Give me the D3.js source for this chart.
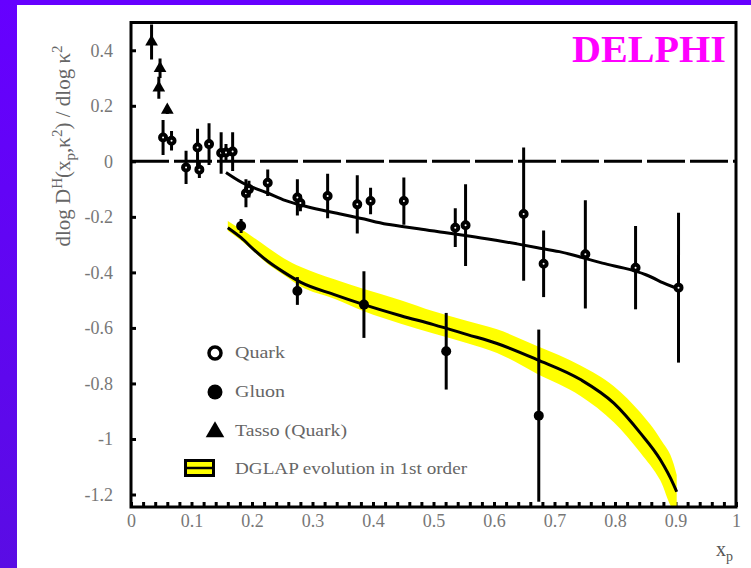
<!DOCTYPE html>
<html>
<head>
<meta charset="utf-8">
<script src="https://cdn.jsdelivr.net/npm/d3@7"></script>
<style>
  body { margin: 0; background: #fff; }
  svg { display: block; }
  .tick text { font-family: "Liberation Serif", serif; font-size: 18px; fill: #777; }
</style>
</head>
<body>
<div id="chart"></div>
<script>
const svgWidth = 751
const svgHeight = 568

let frame = { left: 131, top: 22.5, right: 736, bottom: 507 }

// Tasso (quark) points at low x_p
const tassoX = [0.034, 0.048, 0.046, 0.06]
const tassoY = [0.43, 0.335, 0.265, 0.185]
const tassoErr = [0.063, 0.035, 0.04, 0.015]

// quark points (open circles)
const quarkX = [0.053, 0.067, 0.091, 0.11, 0.113, 0.129, 0.149, 0.157, 0.168, 0.19, 0.195,
  0.226, 0.275, 0.28, 0.325, 0.374, 0.396, 0.451, 0.536, 0.553, 0.649, 0.682, 0.751, 0.834, 0.905]
const quarkY = [0.086, 0.074, -0.022, 0.05, -0.03, 0.062, 0.03, 0.032, 0.035, -0.115, -0.1,
  -0.077, -0.13, -0.15, -0.125, -0.155, -0.143, -0.143, -0.239, -0.23, -0.19, -0.369, -0.335, -0.383, -0.455]
const quarkErr = [0.063, 0.035, 0.06, 0.067, 0.03, 0.075, 0.075, 0.03, 0.07, 0.05, 0.03,
  0.048, 0.065, 0.03, 0.08, 0.105, 0.048, 0.085, 0.07, 0.147, 0.24, 0.12, 0.195, 0.15, 0.27]

// gluon points (filled circles)
const gluonX = [0.182, 0.275, 0.385, 0.521, 0.674]
const gluonY = [-0.233, -0.467, -0.516, -0.684, -0.916]
const gluonErr = [0.025, 0.05, 0.12, 0.138, 0.31]

// upper fitted line
const fitX = [0.157, 0.19, 0.226, 0.253, 0.297, 0.336, 0.39, 0.418, 0.479, 0.517, 0.561,
  0.605, 0.638, 0.671, 0.71, 0.737, 0.781, 0.814, 0.853, 0.88, 0.9]
const fitY = [-0.04, -0.088, -0.112, -0.143, -0.167, -0.185, -0.209, -0.227, -0.243, -0.257, -0.269,
  -0.285, -0.297, -0.311, -0.325, -0.341, -0.369, -0.383, -0.407, -0.44, -0.455]

// DGLAP evolution, 1st order, with its band
const dglapX = [0.16, 0.182, 0.203, 0.226, 0.253, 0.28, 0.336, 0.385, 0.446, 0.5, 0.556,
  0.605, 0.671, 0.743, 0.798, 0.842, 0.875, 0.897, 0.902]
const dglapY = [-0.239, -0.275, -0.318, -0.36, -0.4, -0.435, -0.48, -0.516, -0.556, -0.588, -0.624,
  -0.656, -0.714, -0.786, -0.871, -0.979, -1.075, -1.165, -1.19]
const bandHi = [-0.215, -0.245, -0.275, -0.31, -0.35, -0.38, -0.425, -0.46, -0.5, -0.54, -0.575,
  -0.605, -0.665, -0.735, -0.81, -0.905, -1.0, -1.09, -1.13]
const bandLo = [-0.25, -0.285, -0.325, -0.37, -0.41, -0.45, -0.495, -0.54, -0.585, -0.62, -0.655,
  -0.69, -0.765, -0.845, -0.94, -1.05, -1.15, -1.25, -1.25]

const yTicks = [0.4, 0.2, 0, -0.2, -0.4, -0.6, -0.8, -1, -1.2]
const xTicks = [0, 0.1, 0.2, 0.3, 0.4, 0.5, 0.6, 0.7, 0.8, 0.9, 1]

let svg = d3.select("#chart")
  .append("svg")
  .attr("width", svgWidth)
  .attr("height", svgHeight)

// purple slide background
let grad = svg.append("defs").append("linearGradient")
  .attr("id", "side").attr("x1", 0).attr("y1", 0).attr("x2", 0).attr("y2", 1)
grad.append("stop").attr("offset", "0%").attr("stop-color", "#6600ff")
grad.append("stop").attr("offset", "100%").attr("stop-color", "#5a0ce4")

svg.append("rect").attr("width", svgWidth).attr("height", svgHeight).attr("fill", "#fff")
svg.append("rect").attr("width", svgWidth).attr("height", 5).attr("fill", "#6600ff")
svg.append("rect").attr("width", 17).attr("height", svgHeight).attr("fill", "url(#side)")

svg.select("defs").append("clipPath").attr("id", "plot")
  .append("rect")
  .attr("x", frame.left).attr("y", frame.top)
  .attr("width", frame.right - frame.left).attr("height", frame.bottom - frame.top)

let x = d3.scaleLinear().domain([0, 1]).range([frame.left, frame.right])
let y = d3.scaleLinear().domain([-1.245, 0.5]).range([frame.bottom, frame.top])

// axes
let leftAxis = d3.axisLeft(y)
  .tickValues(yTicks)
  .tickSize(-5)
  .tickPadding(18)
  .tickFormat(d => String(d))

svg.append("g")
  .attr("transform", `translate(${frame.left},0)`)
  .call(leftAxis)

let minorAxis = d3.axisBottom(x)
  .tickValues(d3.range(0, 1.001, 0.02))
  .tickSize(-5)
  .tickFormat("")
svg.append("g")
  .attr("transform", `translate(0,${frame.bottom})`)
  .call(minorAxis)

let bottomAxis = d3.axisBottom(x)
  .tickValues(xTicks)
  .tickSize(0)
  .tickPadding(7)
  .tickFormat(d => String(d))
svg.append("g")
  .attr("transform", `translate(0,${frame.bottom})`)
  .call(bottomAxis)

svg.selectAll(".domain").remove()
svg.selectAll(".tick line").attr("stroke", "#000").attr("stroke-width", 3)

let plot = svg.append("g").attr("clip-path", "url(#plot)")

// zero line
plot.append("line")
  .attr("x1", x(0)).attr("x2", x(1))
  .attr("y1", y(0)).attr("y2", y(0))
  .attr("stroke", "#000")
  .attr("stroke-width", 3)
  .attr("stroke-dasharray", "38,5")

// DGLAP band and curve
let band = d3.area()
  .x((d, i) => x(dglapX[i]))
  .y0((d, i) => y(bandLo[i]))
  .y1((d, i) => y(bandHi[i]))
  .curve(d3.curveMonotoneX)

plot.append("path")
  .datum(dglapX)
  .attr("d", band)
  .attr("fill", "#ffff00")

let dglapLine = d3.line()
  .x((d, i) => x(dglapX[i]))
  .y((d, i) => y(dglapY[i]))
  .curve(d3.curveMonotoneX)

plot.append("path")
  .datum(dglapX)
  .attr("d", dglapLine)
  .attr("fill", "none")
  .attr("stroke", "#000")
  .attr("stroke-width", 3)

let fitLine = d3.line()
  .x((d, i) => x(fitX[i]))
  .y((d, i) => y(fitY[i]))
  .curve(d3.curveBasis)

plot.append("path")
  .datum(fitX)
  .attr("d", fitLine)
  .attr("fill", "none")
  .attr("stroke", "#000")
  .attr("stroke-width", 3)

// error bars
function drawErrors(xs, ys, errs) {
  plot.append("g")
    .selectAll("line")
    .data(xs)
    .enter()
    .append("line")
    .attr("x1", d => x(d)).attr("x2", d => x(d))
    .attr("y1", (d, i) => y(ys[i] + errs[i]))
    .attr("y2", (d, i) => y(ys[i] - errs[i]))
    .attr("stroke", "#000")
    .attr("stroke-width", 3)
}
drawErrors(tassoX, tassoY, tassoErr)
drawErrors(quarkX, quarkY, quarkErr)
drawErrors(gluonX, gluonY, gluonErr)

// small open circles: thick ring, barely hollow at this size
plot.append("g")
  .selectAll("circle")
  .data(quarkX)
  .enter()
  .append("circle")
  .attr("cx", d => x(d))
  .attr("cy", (d, i) => y(quarkY[i]))
  .attr("r", 3)
  .attr("fill", "#fff")
  .attr("stroke", "#000")
  .attr("stroke-width", 4)

plot.append("g")
  .selectAll("circle")
  .data(gluonX)
  .enter()
  .append("circle")
  .attr("cx", d => x(d))
  .attr("cy", (d, i) => y(gluonY[i]))
  .attr("r", 5)
  .attr("fill", "#000")

let tri = d3.symbol().type(d3.symbolTriangle).size(70)
plot.append("g")
  .selectAll("path")
  .data(tassoX)
  .enter()
  .append("path")
  .attr("d", tri)
  .attr("transform", (d, i) => `translate(${x(d)},${y(tassoY[i])})`)
  .attr("fill", "#000")

// frame
svg.append("rect")
  .attr("x", frame.left).attr("y", frame.top)
  .attr("width", frame.right - frame.left).attr("height", frame.bottom - frame.top)
  .attr("fill", "none")
  .attr("stroke", "#000")
  .attr("stroke-width", 3)

// DELPHI label
svg.append("text")
  .attr("x", 572).attr("y", 62)
  .attr("font-family", "Liberation Serif, serif")
  .attr("font-weight", "bold")
  .attr("font-size", 38)
  .attr("textLength", 154)
  .attr("lengthAdjust", "spacingAndGlyphs")
  .attr("fill", "#ff00ff")
  .text("DELPHI")

// legend
let legend = svg.append("g")
  .attr("font-family", "Liberation Serif, serif")
  .attr("font-size", 17)
  .attr("fill", "#666")

legend.append("circle").attr("cx", 215).attr("cy", 353).attr("r", 6)
  .attr("fill", "#fff").attr("stroke", "#000").attr("stroke-width", 3.5)
legend.append("circle").attr("cx", 215).attr("cy", 392).attr("r", 7.5).attr("fill", "#000")
legend.append("path")
  .attr("d", d3.symbol().type(d3.symbolTriangle).size(150))
  .attr("transform", "translate(215,432)")
  .attr("fill", "#000")
legend.append("rect").attr("x", 185.5).attr("y", 460.5).attr("width", 28).attr("height", 15)
  .attr("fill", "#ffff00").attr("stroke", "#000").attr("stroke-width", 3)
legend.append("line").attr("x1", 185).attr("x2", 214).attr("y1", 468).attr("y2", 468)
  .attr("stroke", "#000").attr("stroke-width", 2.5)

let legendNames = ["Quark", "Gluon", "Tasso (Quark)", "DGLAP evolution in 1st order"]
let legendY = [358, 397, 436, 474]
let legendLen = [50, 50, 112, 232]

legend.selectAll("text.lab")
  .data(legendNames)
  .enter()
  .append("text")
  .attr("class", "lab")
  .attr("x", 235)
  .attr("y", (d, i) => legendY[i])
  .attr("textLength", (d, i) => legendLen[i])
  .attr("lengthAdjust", "spacingAndGlyphs")
  .text(d => d)

// axis titles
let yTitle = svg.append("text")
  .attr("transform", "translate(70,146) rotate(-90)")
  .attr("text-anchor", "middle")
  .attr("font-family", "Liberation Serif, serif")
  .attr("font-size", 21)
  .attr("fill", "#666")
yTitle.append("tspan").text("dlog D")
yTitle.append("tspan").attr("dy", -8).attr("font-size", 15).text("H")
yTitle.append("tspan").attr("dy", 8).text("(x")
yTitle.append("tspan").attr("dy", 5).attr("font-size", 15).text("p")
yTitle.append("tspan").attr("dy", -5).text(",κ")
yTitle.append("tspan").attr("dy", -8).attr("font-size", 15).text("2")
yTitle.append("tspan").attr("dy", 8).text(") / dlog κ")
yTitle.append("tspan").attr("dy", -8).attr("font-size", 15).text("2")

let xTitle = svg.append("text")
  .attr("x", 716).attr("y", 556)
  .attr("font-family", "Liberation Serif, serif")
  .attr("font-size", 20)
  .attr("fill", "#555")
xTitle.append("tspan").text("x")
xTitle.append("tspan").attr("dy", 5).attr("font-size", 14).text("p")
</script>
</body>
</html>
